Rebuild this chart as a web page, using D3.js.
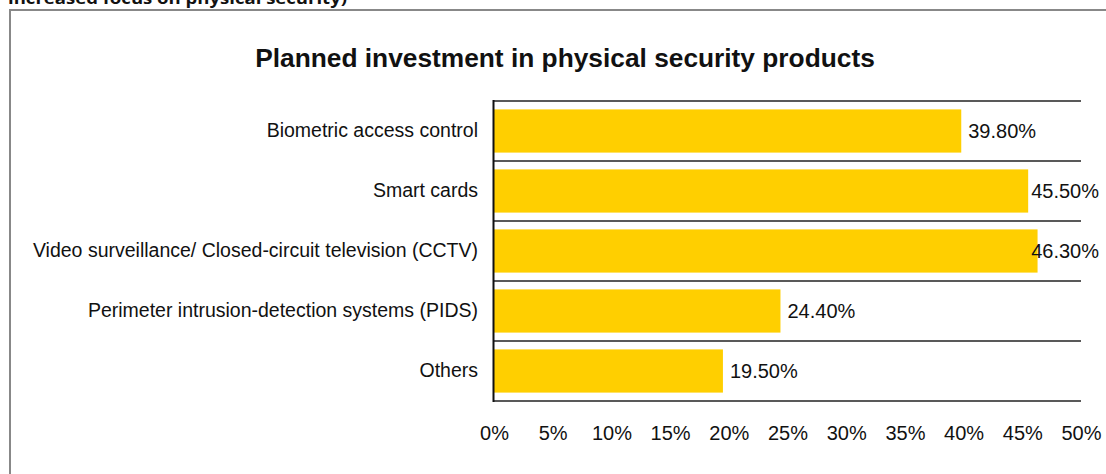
<!DOCTYPE html>
<html>
<head>
<meta charset="utf-8">
<script src="https://cdn.jsdelivr.net/npm/d3@7/dist/d3.min.js"></script>
<style>
  html, body { margin: 0; padding: 0; background: #fff; }
  svg { display: block; }
</style>
</head>
<body>
<svg id="chart" width="1106" height="474"></svg>
<script>
// Survey share by product category (percent of respondents)
const categories = [
  "Biometric access control",
  "Smart cards",
  "Video surveillance/ Closed-circuit television (CCTV)",
  "Perimeter intrusion-detection systems (PIDS)",
  "Others"
];
const values = [39.8, 45.5, 46.3, 24.4, 19.5];
const tickValues = [0, 5, 10, 15, 20, 25, 30, 35, 40, 45, 50];

const chartTitle = "Planned investment in physical security products";
const headerText = "increased focus on physical security)";

const svg = d3.select("#chart");
const font = "'Liberation Sans', Arial, sans-serif";

// Heading line from the surrounding document, running off the top edge
svg.append("text")
  .attr("x", 8).attr("y", 4)
  .attr("font-family", "'Open Sans', 'Noto Sans', sans-serif")
  .attr("font-weight", "bold")
  .attr("font-size", 16)
  .attr("textLength", 339)
  .attr("lengthAdjust", "spacingAndGlyphs")
  .attr("fill", "#111")
  .text(headerText);

// Chart frame
svg.append("rect")
  .attr("x", 10).attr("y", 10)
  .attr("width", 1120).attr("height", 500)
  .attr("fill", "#fff")
  .attr("stroke", "#888")
  .attr("stroke-width", 2);

// Title
svg.append("text")
  .attr("x", 565).attr("y", 67)
  .attr("text-anchor", "middle")
  .attr("font-family", font)
  .attr("font-weight", "bold")
  .attr("font-size", 26.3)
  .attr("fill", "#111")
  .text(chartTitle);

// Scales
const x = d3.scaleLinear().domain([0, 50]).range([494, 1081]);
const y = d3.scaleBand()
  .domain(categories)
  .range([101, 401])
  .paddingInner(0.28)
  .paddingOuter(0.14);

// Horizontal separators between categories
const boundaries = d3.range(categories.length + 1).map(i => y.range()[0] + i * y.step());
svg.append("g")
  .selectAll("line")
  .data(boundaries)
  .join("line")
  .attr("x1", 493).attr("x2", 1081)
  .attr("y1", d => d).attr("y2", d => d)
  .attr("stroke", "#222")
  .attr("stroke-width", 1.6);

// Bars
svg.append("g")
  .selectAll("rect")
  .data(categories)
  .join("rect")
  .attr("x", x(0))
  .attr("y", d => y(d))
  .attr("width", (d, i) => x(values[i]) - x(0))
  .attr("height", y.bandwidth())
  .attr("fill", "#FFCF00");

// Vertical axis line
svg.append("line")
  .attr("x1", 493.5).attr("x2", 493.5)
  .attr("y1", 100).attr("y2", 402)
  .attr("stroke", "#111")
  .attr("stroke-width", 2);

// Category axis
const yAxis = svg.append("g")
  .attr("transform", "translate(494,0)")
  .call(d3.axisLeft(y).tickSize(0).tickPadding(16));
yAxis.select(".domain").remove();
yAxis.selectAll("text")
  .attr("font-family", font)
  .attr("font-size", 19.5)
  .attr("fill", "#111");

// Value axis
const xAxis = svg.append("g")
  .attr("transform", "translate(0,401)")
  .call(d3.axisBottom(x).tickValues(tickValues).tickSize(0).tickPadding(25)
    .tickFormat(d => d + "%"));
xAxis.select(".domain").remove();
xAxis.selectAll("text")
  .attr("font-family", font)
  .attr("font-size", 20)
  .attr("fill", "#111");

// Value labels, kept inside the chart's right margin
const labelRightLimit = 1099;
svg.append("g")
  .selectAll("text")
  .data(categories)
  .join("text")
  .attr("y", d => y(d) + y.bandwidth() / 2)
  .attr("dy", "0.35em")
  .attr("font-family", font)
  .attr("font-size", 20)
  .attr("fill", "#111")
  .text((d, i) => values[i].toFixed(2) + "%")
  .each(function (d, i) {
    const w = this.getComputedTextLength();
    const px = Math.min(x(values[i]) + 7, labelRightLimit - w);
    d3.select(this).attr("x", px);
  });
</script>
</body>
</html>
